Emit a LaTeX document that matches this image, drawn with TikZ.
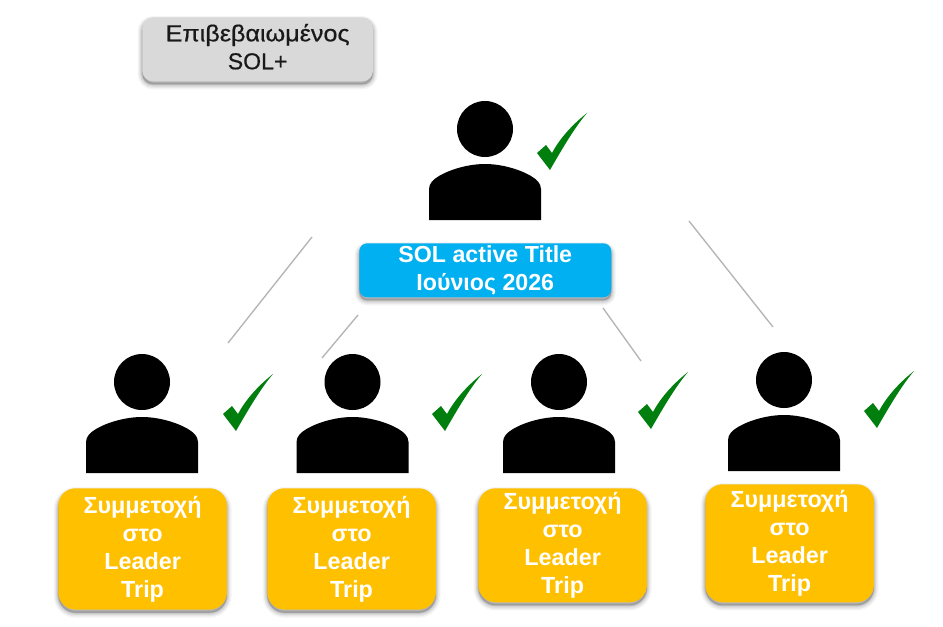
\documentclass[tikz,border=0pt]{standalone}
\usepackage{fontspec}
\setmainfont{Liberation Sans}
\definecolor{boxgray}{HTML}{D9D9D9}
\definecolor{boxblue}{HTML}{00B0F0}
\definecolor{boxgold}{HTML}{FFC000}
\definecolor{tickgreen}{HTML}{007F0E}
\definecolor{linkgray}{HTML}{B4B4B4}
\tikzset{
  softshadow/.style={
    preaction={draw=black,fill=black,opacity=.04,line width=7pt,transform canvas={yshift=-2.6pt}},
    preaction={draw=black,fill=black,opacity=.05,line width=5pt,transform canvas={yshift=-2.6pt}},
    preaction={draw=black,fill=black,opacity=.07,line width=3.2pt,transform canvas={yshift=-2.4pt}},
    preaction={draw=black,fill=black,opacity=.07,line width=1.6pt,transform canvas={yshift=-2.2pt}}},
  card/.style={softshadow,inner sep=0pt,align=center,anchor=north west},
  goldcard/.style={card,fill=boxgold,text=white,rounded corners=13pt,minimum width=126.5pt,font=\fontsize{17.5}{21}\selectfont\bfseries},
  link/.style={draw=linkgray,line width=1pt},
  tick/.style={fill=tickgreen,draw=none}
}
\newcommand{\person}[3]{% name, x, y of head centre
  \begin{scope}[shift={(#2,#3)}]
  \fill[black] (0,0) circle (28);
  \fill[black] (-56,91) -- (-56,60)
     .. controls (-56,54) and (-51,50) .. (-46,47)
     .. controls (-34,40) and (-16,35) .. (0,35)
     .. controls (16,35) and (34,40) .. (46,47)
     .. controls (51,50) and (56,54) .. (56,60)
     -- (56,91) -- cycle;
  \end{scope}
}
\newcommand{\tickmark}[2]{% top-left x, y of the bounding box
  \begin{scope}[shift={(#1,#2)}]
  \fill[tick] (0,40) -- (9,32) -- (15,40)
     .. controls (23,25) and (36,11) .. (50,0)
     .. controls (38,14) and (25,36) .. (13,57) -- cycle;
  \end{scope}
}
\begin{document}
\begin{tikzpicture}[x=0.75pt,y=-0.75pt]
\useasboundingbox (0,0) rectangle (943,626);
\fill[white] (0,0) rectangle (943,626);

\coordinate (a1) at (312,237); \coordinate (a2) at (228,343);
\coordinate (b1) at (358,315); \coordinate (b2) at (322,358);
\coordinate (c1) at (603,308); \coordinate (c2) at (641,361);
\coordinate (d1) at (689,221); \coordinate (d2) at (773,327);
\draw[link] (a1) -- (a2);
\draw[link] (b1) -- (b2);
\draw[link] (c1) -- (c2);
\draw[link] (d1) -- (d2);

\person{top}{485}{129}
\person{p1}{142}{382}
\person{p2}{352.5}{382}
\person{p3}{559}{382}
\person{p4}{784}{380}

\tickmark{537}{113}
\tickmark{223}{374}
\tickmark{432}{374}
\tickmark{638}{372}
\tickmark{864}{371}

\node[card,fill=boxgray,text=black!90,rounded corners=8pt,minimum width=173pt,minimum height=48pt,font=\fontsize{17.3}{21}\selectfont\addfontfeature{FakeBold=0.6}] (conf) at (142,17) {{\addfontfeature{FakeStretch=1.09}Επιβεβαιωμένος}\\SOL+\rule[-4pt]{0pt}{4pt}};
\node[card,fill=boxblue,text=white,rounded corners=6pt,minimum width=189pt,minimum height=40.5pt,font=\fontsize{17.4}{21}\selectfont\bfseries] (title) at (359,243) {SOL active Title\\Ιούνιος 2026};

\node[goldcard,minimum height=91pt] (g1) at (58,488) {Συμμετοχή\\στο\\Leader\\Trip};
\node[goldcard,minimum height=91pt] (g2) at (267,488) {Συμμετοχή\\στο\\Leader\\Trip};
\node[goldcard,minimum height=85.5pt] (g3) at (478,488) {Συμμετοχή\\στο\\Leader\\Trip};
\node[goldcard,minimum height=88.5pt] (g4) at (705,484) {Συμμετοχή\\στο\\Leader\\Trip};
\end{tikzpicture}
\end{document}
